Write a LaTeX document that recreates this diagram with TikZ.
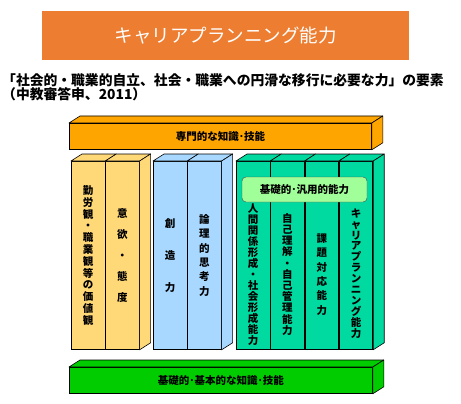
\documentclass[tikz,border=0pt]{standalone}
\usepackage{fontspec}
\setmainfont{Noto Sans CJK JP}
\usetikzlibrary{positioning,calc}
\definecolor{bannerOrange}{HTML}{ED7D31}
\definecolor{specOrange}{HTML}{FFA500}
\definecolor{valueYellow}{HTML}{FFD878}
\definecolor{thinkBlue}{HTML}{A8D8FF}
\definecolor{careerTeal}{HTML}{00D9A0}
\definecolor{basicGreen}{HTML}{00CC00}
\definecolor{genericGreen}{HTML}{A0FF98}
\tikzset{
  titlebox/.style={fill=bannerOrange, text=white, inner sep=0pt,
    minimum width=367pt, minimum height=49pt, anchor=north west,
    font=\fontsize{18.5}{20}\selectfont},
  front/.style={draw, line width=0.8pt, inner sep=0pt, anchor=north west},
  bar/.style={front, minimum width=302pt, minimum height=26pt,
    font=\bfseries\fontsize{10.5}{12}\selectfont},
  column/.style={front, minimum width=33.5pt, minimum height=188pt},
  face/.style={draw, line width=0.6pt, line join=round},
  vtext/.style={align=center, inner sep=0pt, font=\bfseries\fontsize{10.5}{#1}\selectfont},
  pill/.style={draw=black!70, fill=genericGreen, rounded corners=4pt,
    minimum width=125pt, minimum height=25pt, inner sep=0pt,
    font=\bfseries\fontsize{10.5}{12}\selectfont}
}
\begin{document}
\begin{tikzpicture}[x=1pt, y=-1pt]
  \useasboundingbox (0,0) rectangle (461,404);
  \node[titlebox] (title) at (42,11) {キャリアプランニング能力};
  \node[anchor=north west, align=left, inner sep=0pt,
    font=\bfseries\fontsize{13.8}{13}\selectfont] (sub) at (2,73)
    {「社会的・職業的自立、社会・職業への円滑な移行に必要な力」の要素\\（中教審答申、2011）};

  % bars
  \node[bar, fill=specOrange] (spec) at (69,123) {専門的な知識･技能};
  \node[bar, fill=basicGreen, minimum width=303pt] (basic) at (69,367) {基礎的･基本的な知識･技能};

  % columns
  \node[column, fill=valueYellow] (y1) at (71,161) {};
  \node[column, fill=valueYellow, right=0pt of y1] (y2) {};
  \node[column, fill=thinkBlue] (b1) at (153,161) {};
  \node[column, fill=thinkBlue, right=0pt of b1] (b2) {};
  \node[column, fill=careerTeal] (g1) at (236,161) {};
  \node[column, fill=careerTeal, right=0pt of g1] (g2) {};
  \node[column, fill=careerTeal, right=0pt of g2] (g3) {};
  \node[column, fill=careerTeal, right=0pt of g3] (g4) {};

  % top and side faces
  \foreach \c/\f in {spec/specOrange, basic/basicGreen, y1/valueYellow, y2/valueYellow,
      b1/thinkBlue, b2/thinkBlue, g1/careerTeal, g2/careerTeal, g3/careerTeal, g4/careerTeal}
    \filldraw[face, fill=\f] (\c.north west) -- ++(11,-7) -- ($(\c.north east)+(11,-7)$) -- (\c.north east) -- cycle;
  \foreach \c/\f in {spec/specOrange, basic/basicGreen, y2/valueYellow, b2/thinkBlue, g4/careerTeal}
    \filldraw[face, fill=\f] (\c.north east) -- ++(11,-7) -- ($(\c.south east)+(11,-7)$) -- (\c.south east) -- cycle;

  % vertical labels
  \node[vtext=11.8] (ty1) at (y1) {勤\\労\\観\\・\\職\\業\\観\\等\\の\\価\\値\\観};
  \node[vtext=21] (ty2) at (y2) {意\\欲\\・\\態\\度};
  \node[vtext=32] (tb1) at (b1) {創\\造\\力};
  \node[vtext=14.4] (tb2) at (b2) {論\\理\\的\\思\\考\\力};
  \node[vtext=11] (tg1) at ($(g1)+(0,19)$) {人\\間\\関\\係\\形\\成\\・\\社\\会\\形\\成\\能\\力};
  \node[vtext=11.2] (tg2) at ($(g2)+(0,19)$) {自\\己\\理\\解\\・\\自\\己\\管\\理\\能\\力};
  \node[vtext=14.4] (tg3) at ($(g3)+(0,19)$) {課\\題\\対\\応\\能\\力};
  \node[vtext=10.9] (tg4) at ($(g4)+(0,18)$) {キ\\ャ\\リ\\ア\\プ\\ラ\\ン\\ニ\\ン\\グ\\能\\力};

  \node[pill] (generic) at (304.5,189.5) {基礎的･汎用的能力};
\end{tikzpicture}
\end{document}
